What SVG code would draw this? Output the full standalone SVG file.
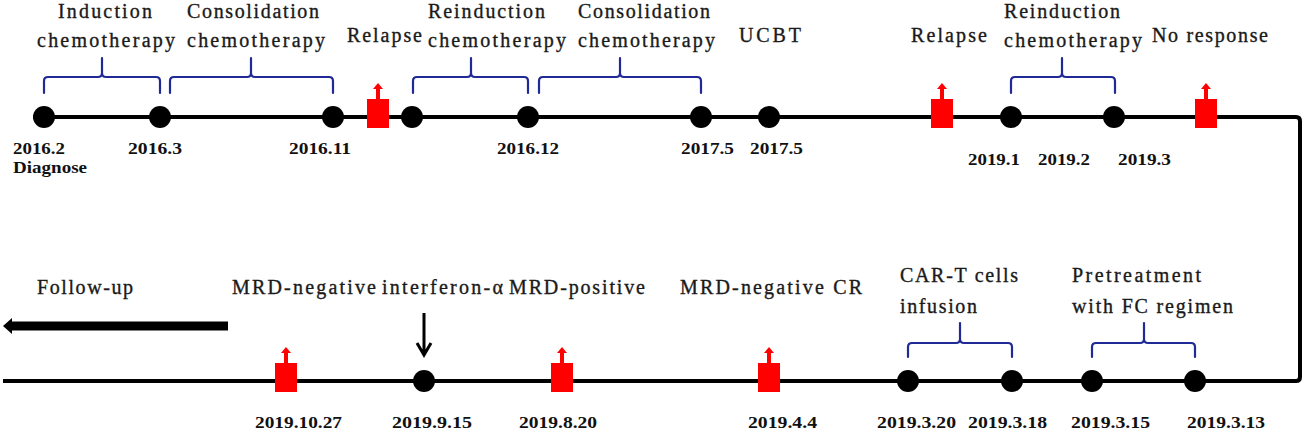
<svg xmlns="http://www.w3.org/2000/svg" width="1305" height="433" viewBox="0 0 1305 433">
<style>
text{font-family:'Liberation Serif','DejaVu Serif',serif}
.t{font-size:20px;fill:#1a1a1a;stroke:#1a1a1a;stroke-width:0.35}
.d{font-size:17px;font-weight:bold;fill:#111}
.br{fill:none;stroke:#1f2a96;stroke-width:2.2;stroke-linecap:round}
.dot{fill:#000}
</style>
<defs>
<g id="relapse">
<rect x="-11" y="-18" width="22" height="29" fill="#ff0000"/>
<rect x="-2" y="-29" width="4" height="12" fill="#ff0000"/>
<polygon points="0,-34 -5,-28 5,-28" fill="#ff0000"/>
</g>
</defs>
<rect width="1305" height="433" fill="#fff"/>
<g id="connectors">
<path d="M33 117 H1296 Q1300 117 1300 121 V377 Q1300 381 1296 381 H3" fill="none" stroke="#000" stroke-width="4"/>
<path d="M228 326 H12" stroke="#000" stroke-width="9"/>
<polygon points="3,326 12,318 12,334" fill="#000"/>
<path d="M424 313 V355 M417 343 L424 355 L431 343" fill="none" stroke="#000" stroke-width="3"/>
</g>
<g id="brackets">
<path class="br" d="M44 93 V81 Q44 77 48 77 H98 Q102 77 102 73 V58 M102 73 Q102 77 106 77 H156 Q160 77 160 81 V93"/>
<path class="br" d="M170 93 V81 Q170 77 174 77 H247 Q251 77 251 73 V58 M251 73 Q251 77 255 77 H329 Q333 77 333 81 V93"/>
<path class="br" d="M413 93 V81 Q413 77 417 77 H467 Q471 77 471 73 V58 M471 73 Q471 77 475 77 H524 Q528 77 528 81 V93"/>
<path class="br" d="M539 93 V81 Q539 77 543 77 H616 Q620 77 620 73 V58 M620 73 Q620 77 624 77 H697 Q701 77 701 81 V93"/>
<path class="br" d="M1011 93 V81 Q1011 77 1015 77 H1058 Q1062 77 1062 73 V58 M1062 73 Q1062 77 1066 77 H1111 Q1115 77 1115 81 V93"/>
<path class="br" d="M908 357 V347 Q908 343 912 343 H956 Q960 343 960 339 V323 M960 339 Q960 343 964 343 H1008 Q1012 343 1012 347 V357"/>
<path class="br" d="M1092 357 V347 Q1092 343 1096 343 H1140 Q1144 343 1144 339 V323 M1144 339 Q1144 343 1148 343 H1191 Q1195 343 1195 347 V357"/>
</g>
<g id="n-2016-2"><circle class="dot" cx="44" cy="117" r="11"/><text class="d" x="13" y="154" textLength="52" lengthAdjust="spacingAndGlyphs">2016.2</text><text class="d" x="13" y="173" textLength="74" lengthAdjust="spacingAndGlyphs">Diagnose</text></g>
<g id="n-2016-3"><circle class="dot" cx="160" cy="117" r="11"/><text class="d" x="128" y="154" textLength="54" lengthAdjust="spacingAndGlyphs">2016.3</text></g>
<g id="n-2016-11"><circle class="dot" cx="333" cy="117" r="11"/><text class="d" x="289" y="154" textLength="62" lengthAdjust="spacingAndGlyphs">2016.11</text></g>
<g id="n-relapse1"><use href="#relapse" x="378" y="117"/><text class="t" x="347" y="42" textLength="75" lengthAdjust="spacing">Relapse</text></g>
<g id="n-reind1"><circle class="dot" cx="412" cy="117" r="11"/></g>
<g id="n-2016-12"><circle class="dot" cx="528" cy="117" r="11"/><text class="d" x="497" y="154" textLength="62" lengthAdjust="spacingAndGlyphs">2016.12</text></g>
<g id="n-2017-5a"><circle class="dot" cx="701" cy="117" r="11"/><text class="d" x="681" y="154" textLength="53" lengthAdjust="spacingAndGlyphs">2017.5</text></g>
<g id="n-2017-5b"><circle class="dot" cx="769" cy="117" r="11"/><text class="d" x="750" y="154" textLength="53" lengthAdjust="spacingAndGlyphs">2017.5</text><text class="t" x="739" y="42" textLength="62" lengthAdjust="spacing">UCBT</text></g>
<g id="n-relapse2"><use href="#relapse" x="942" y="117"/><text class="t" x="911" y="42" textLength="76" lengthAdjust="spacing">Relapse</text></g>
<g id="n-2019-1"><circle class="dot" cx="1011" cy="117" r="11"/><text class="d" x="968" y="165" textLength="52" lengthAdjust="spacingAndGlyphs">2019.1</text></g>
<g id="n-2019-2"><text class="d" x="1038" y="165" textLength="52" lengthAdjust="spacingAndGlyphs">2019.2</text></g>
<g id="n-2019-3"><circle class="dot" cx="1114" cy="117" r="11"/><text class="d" x="1118" y="165" textLength="53" lengthAdjust="spacingAndGlyphs">2019.3</text></g>
<g id="n-noresp"><use href="#relapse" x="1206" y="117"/><text class="t" x="1152" y="42" textLength="116" lengthAdjust="spacing">No response</text></g>
<g id="labels-top">
<text class="t" x="58" y="18" textLength="94" lengthAdjust="spacing">Induction</text>
<text class="t" x="37" y="47" textLength="138" lengthAdjust="spacing">chemotherapy</text>
<text class="t" x="187" y="18" textLength="132" lengthAdjust="spacing">Consolidation</text>
<text class="t" x="187" y="47" textLength="138" lengthAdjust="spacing">chemotherapy</text>
<text class="t" x="428" y="18" textLength="117" lengthAdjust="spacing">Reinduction</text>
<text class="t" x="428" y="47" textLength="138" lengthAdjust="spacing">chemotherapy</text>
<text class="t" x="578" y="18" textLength="132" lengthAdjust="spacing">Consolidation</text>
<text class="t" x="578" y="47" textLength="137" lengthAdjust="spacing">chemotherapy</text>
<text class="t" x="1004" y="18" textLength="116" lengthAdjust="spacing">Reinduction</text>
<text class="t" x="1004" y="47" textLength="138" lengthAdjust="spacing">chemotherapy</text>
</g>
<g id="n-followup"><text class="t" x="37" y="294" textLength="96" lengthAdjust="spacing">Follow-up</text></g>
<g id="n-2019-10-27"><use href="#relapse" x="286" y="381"/><text class="d" x="255" y="428" textLength="87" lengthAdjust="spacingAndGlyphs">2019.10.27</text><text class="t" x="232" y="294" textLength="144" lengthAdjust="spacing">MRD-negative</text></g>
<g id="n-2019-9-15"><circle class="dot" cx="424" cy="381" r="11"/><text class="d" x="392" y="428" textLength="80" lengthAdjust="spacingAndGlyphs">2019.9.15</text><text class="t" x="382" y="294" textLength="121" lengthAdjust="spacing">interferon-α</text></g>
<g id="n-2019-8-20"><use href="#relapse" x="562" y="381"/><text class="d" x="519" y="428" textLength="78" lengthAdjust="spacingAndGlyphs">2019.8.20</text><text class="t" x="509" y="294" textLength="136" lengthAdjust="spacing">MRD-positive</text></g>
<g id="n-2019-4-4"><use href="#relapse" x="769" y="381"/><text class="d" x="748" y="428" textLength="69" lengthAdjust="spacingAndGlyphs">2019.4.4</text><text class="t" x="680" y="294" textLength="182" lengthAdjust="spacing">MRD-negative CR</text></g>
<g id="n-2019-3-20"><circle class="dot" cx="908" cy="381" r="11"/><text class="d" x="877" y="428" textLength="79" lengthAdjust="spacingAndGlyphs">2019.3.20</text><text class="t" x="900" y="282" textLength="118" lengthAdjust="spacing">CAR-T cells</text><text class="t" x="900" y="313" textLength="77" lengthAdjust="spacing">infusion</text></g>
<g id="n-2019-3-18"><circle class="dot" cx="1012" cy="381" r="11"/><text class="d" x="968" y="428" textLength="79" lengthAdjust="spacingAndGlyphs">2019.3.18</text></g>
<g id="n-2019-3-15"><circle class="dot" cx="1092" cy="381" r="11"/><text class="d" x="1071" y="428" textLength="79" lengthAdjust="spacingAndGlyphs">2019.3.15</text><text class="t" x="1072" y="282" textLength="129" lengthAdjust="spacing">Pretreatment</text><text class="t" x="1072" y="313" textLength="161" lengthAdjust="spacing">with FC regimen</text></g>
<g id="n-2019-3-13"><circle class="dot" cx="1195" cy="381" r="11"/><text class="d" x="1187" y="428" textLength="78" lengthAdjust="spacingAndGlyphs">2019.3.13</text></g>
</svg>
